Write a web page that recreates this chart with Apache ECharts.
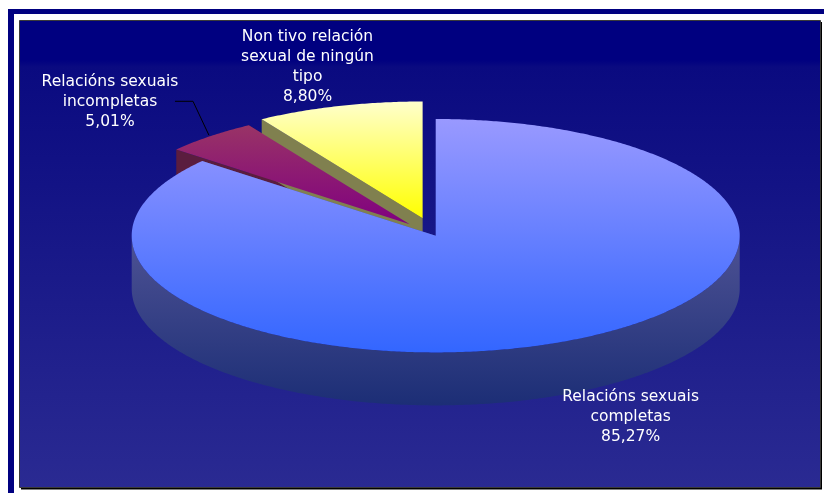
<!DOCTYPE html>
<html>
<head>
<meta charset="utf-8">
<script src="https://cdn.jsdelivr.net/npm/echarts@6.0.0/dist/echarts.min.js"></script>
<style>
html,body{margin:0;padding:0;background:#fff;}
#chart{width:824px;height:493px;}
</style>
</head>
<body>
<div id="chart"></div>
<script>
// ---- data ----
var categories = ['Relacións sexuais\ncompletas', 'Relacións sexuais\nincompletas', 'Non tivo relación\nsexual de ningún\ntipo'];
var values = [85.27, 5.01, 8.80];

// ---- style ----
var TOP_COLORS = [['#9999ff', '#3366ff'], ['#993366', '#800080'], ['#ffffcc', '#ffff00']];
var SIDE_COLORS = [['#4e5294', '#1c2e76'], ['#5a1d3f', '#4a1235'], ['#80804f', '#77773f']];
var EXPLODE = [0, 0.13, 0.156];
var LABEL_OFFSET = [[66, 76], [-100, -34.6], [-31.4, -39]];
var C = {x: 435.7, y: 235.7};
var R = {x: 304, y: 116.7};
var DEPTH = 53;
var START = 0;

var TOTAL = values.reduce(function (a, b) { return a + b; }, 0);

function pt(th, r, off, down) {
  var a = th * Math.PI / 180;
  var u = Math.sin(a), v = -Math.cos(a);
  return [C.x + off[0] + R.x * r * u, C.y + off[1] + R.y * r * v + (down || 0)];
}
function arc(a0, a1, off, down) {
  var pts = [];
  var n = Math.max(2, Math.ceil((a1 - a0) / 0.5));
  for (var k = 0; k <= n; k++) {
    pts.push(pt(a0 + (a1 - a0) * k / n, 1, off, down));
  }
  return pts;
}
function grad(c) {
  return new echarts.graphic.LinearGradient(0, 0, 0, 1, [{offset: 0, color: c[0]}, {offset: 1, color: c[1]}]);
}
function fmt(v) { return v.toFixed(2).replace('.', ',') + '%'; }

function renderItem(params, api) {
  var i = params.dataIndex;
  var before = 0;
  for (var j = 0; j < i; j++) before += values[j];
  var val = api.value(0);
  var a0 = START + before / TOTAL * 360;
  var a1 = a0 + val / TOTAL * 360;
  var mid = (a0 + a1) / 2;
  var mp = pt(mid, EXPLODE[i], [0, 0], 0);
  var off = [mp[0] - C.x, mp[1] - C.y];
  var ctr = [C.x + off[0], C.y + off[1]];
  var ctrD = [ctr[0], ctr[1] + DEPTH];
  var front = (i === 0);
  var zs = front ? 2 : 1;
  var zt = front ? 6 : 5;
  var children = [];

  // radial walls
  [a0, a1].forEach(function (a) {
    var p = pt(a, 1, off, 0), pd = pt(a, 1, off, DEPTH);
    children.push({type: 'polygon', z2: zs, shape: {points: [ctr, p, pd, ctrD]},
      style: {fill: SIDE_COLORS[i][0]}});
  });
  // outer curved side (front-facing part)
  var lo = Math.max(a0, 90), hi = Math.min(a1, 270);
  if (hi > lo) {
    var topArc = arc(lo, hi, off, 0);
    var botArc = arc(lo, hi, off, DEPTH).reverse();
    children.push({type: 'polygon', z2: zs + 0.5, shape: {points: topArc.concat(botArc)},
      style: {fill: grad(SIDE_COLORS[i])}});
  }
  // top face
  children.push({type: 'polygon', z2: zt, shape: {points: [ctr].concat(arc(a0, a1, off, 0))},
    style: {fill: grad(TOP_COLORS[i])}});

  // label
  var lp = pt(mid, 1, off, 0);
  var lx = lp[0] + LABEL_OFFSET[i][0], ly = lp[1] + LABEL_OFFSET[i][1];
  children.push({type: 'text', z2: 10, style: {
    text: categories[i] + '\n' + fmt(val), x: lx, y: ly,
    fill: '#ffffff', fontFamily: 'DejaVu Sans', fontSize: 15.5, lineHeight: 20,
    align: 'center', verticalAlign: 'middle'}});
  if (i === 1) {
    children.push({type: 'polyline', z2: 10, shape: {points: [
      [lp[0] - 35, lp[1] - 35], [lp[0] - 17, lp[1] - 35], [lp[0] - 1, lp[1] - 1]]},
      style: {stroke: '#000000', lineWidth: 1, fill: null}});
  }
  return {type: 'group', children: children};
}

var chart = echarts.init(document.getElementById('chart'), null, {renderer: 'canvas'});
chart.setOption({
  animation: false,
  backgroundColor: '#ffffff',
  graphic: [
    {type: 'rect', z: 0, shape: {x: 8, y: 9, width: 816, height: 5}, style: {fill: '#000080'}},
    {type: 'rect', z: 0, shape: {x: 8, y: 9, width: 6, height: 484}, style: {fill: '#000080'}},
    {type: 'rect', z: 0, shape: {x: 21, y: 22, width: 801, height: 467.5}, style: {fill: '#000000'}},
    {type: 'rect', z: 0, shape: {x: 19.5, y: 20.5, width: 801, height: 467},
      style: {stroke: '#3a3a3a', lineWidth: 1,
        fill: new echarts.graphic.LinearGradient(0, 0, 0, 1, [
          {offset: 0, color: '#000080'}, {offset: 0.085, color: '#000080'},
          {offset: 0.1, color: '#0a0a80'}, {offset: 1, color: '#2a2a92'}])}}
  ],
  series: [{
    type: 'custom',
    coordinateSystem: 'none',
    renderItem: renderItem,
    data: values.map(function (v, i) { return {name: categories[i], value: [v]}; })
  }]
});
</script>
</body>
</html>
